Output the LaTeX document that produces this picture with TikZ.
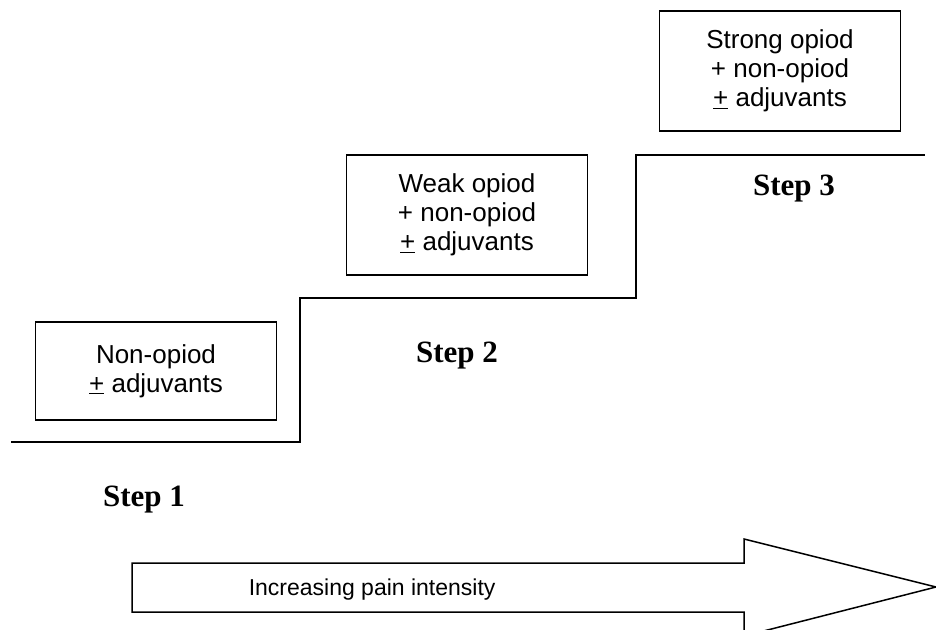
\documentclass[tikz,border=0pt]{standalone}
\usepackage{fontspec}
\setmainfont{Liberation Serif}
\setsansfont{Liberation Sans}
\tikzset{
  drug/.style={draw, line width=1.5bp, align=center, minimum width=241bp,
    font=\sffamily\fontsize{26bp}{29bp}\selectfont},
  steplabel/.style={anchor=base, inner sep=0pt,
    font=\bfseries\fontsize{31bp}{31bp}\selectfont}
}
\begin{document}
\begin{tikzpicture}[x=1bp, y=-1bp, line width=1.5bp]
    \useasboundingbox (0,0) rectangle (936,630);
    \clip (0,0) rectangle (936,630);
    % the ladder
    \coordinate (s0) at (11, 442);
    \coordinate (s1) at (300, 442);
    \coordinate (s2) at (300, 298);
    \coordinate (s3) at (636, 298);
    \coordinate (s4) at (636, 155);
    \coordinate (s5) at (925, 155);
    \draw (s0) -- (s1) -- (s2) -- (s3) -- (s4) -- (s5);
    % drugs on each step
    \node[drug, minimum height=98bp] (d1) at (156, 371) {Non-opiod\\\underline{+} adjuvants};
    \node[drug, minimum height=120bp] (d2) at (467, 215) {Weak opiod\\+ non-opiod\\\underline{+} adjuvants};
    \node[drug, minimum height=120bp] (d3) at (780, 71) {Strong opiod\\+ non-opiod\\\underline{+} adjuvants};
    \node[steplabel] (l1) at (144, 506) {Step 1};
    \node[steplabel] (l2) at (457, 362) {Step 2};
    \node[steplabel] (l3) at (794, 196) {Step 3};
    % pain arrow
    \draw (132, 563) -- (744, 563) -- (744, 539) -- (936, 587)
      -- (744, 636) -- (744, 612) -- (132, 612) -- cycle;
    \node[anchor=base west, inner sep=0pt, font=\sffamily\fontsize{23bp}{29bp}\selectfont]
      (pain) at (248, 595) {Increasing pain intensity};
\end{tikzpicture}
\end{document}
